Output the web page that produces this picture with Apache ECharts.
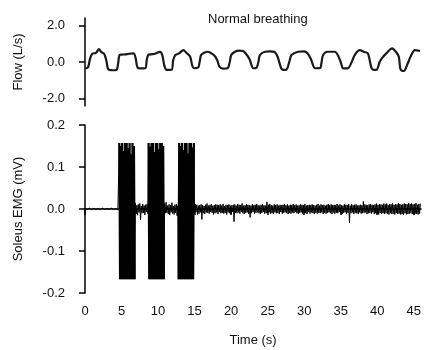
<!DOCTYPE html>
<html>
<head>
<meta charset="utf-8">
<script src="https://cdn.jsdelivr.net/npm/echarts@6/dist/echarts.min.js"></script>
<style>
html,body{margin:0;padding:0;background:#fff;}
#chart{width:424px;height:350px;}
</style>
</head>
<body>
<div id="chart"></div>
<script>
// ---- Data ----
var chartTitle = 'Normal breathing';
var flowAxisName = 'Flow (L/s)';
var emgAxisName = 'Soleus EMG (mV)';
var timeAxisName = 'Time (s)';

var timeTicks = [0, 5, 10, 15, 20, 25, 30, 35, 40, 45];
var flowTicks = [-2.0, 0.0, 2.0];
var emgTicks = [-0.2, -0.1, 0.0, 0.1, 0.2];

// Airflow trace (time in s, flow in L/s)
var flowTime = [0, 0.4, 0.7, 1.0, 1.5, 1.9, 2.2, 2.6, 2.9, 3.1, 3.3, 3.8, 4.3, 4.5, 4.7, 5.0, 5.5, 6.0, 6.6, 6.9,
  7.1, 7.4, 8.2, 8.4, 8.6, 9.0, 9.5, 10.2, 10.5, 10.8, 11.1, 11.8, 12.0, 12.3, 12.8, 13.4, 13.8, 14.3, 14.6, 14.8,
  15.4, 15.6, 15.8, 16.2, 16.7, 17.2, 17.6, 18.0, 18.3, 18.8, 19.4, 19.7, 19.9, 20.4, 21.0, 21.5, 21.9, 22.4, 22.9, 23.3,
  23.6, 23.8, 24.5, 25.2, 25.8, 26.2, 26.7, 27.0, 27.4, 27.8, 28.1, 29.0, 29.8, 30.3, 30.7, 31.3, 31.5, 32.0, 32.2, 32.4,
  33.0, 34.0, 34.4, 34.8, 35.1, 35.4, 35.8, 36.3, 36.7, 37.4, 38.0, 38.5, 39.0, 39.3, 39.7, 40.1, 40.4, 41.0, 41.8, 42.3,
  42.7, 42.9, 43.1, 43.4, 43.9, 44.3, 44.9, 45.6];
var flowValue = [-0.34, -0.30, 0.20, 0.45, 0.50, 0.70, 0.55, 0.45, 0.10, -0.35, -0.43, -0.45, -0.43, -0.10, 0.38, 0.40, 0.42, 0.45, 0.47, 0.20,
  -0.25, -0.35, -0.34, 0.10, 0.38, 0.42, 0.45, 0.55, 0.40, -0.20, -0.43, -0.42, 0.10, 0.38, 0.47, 0.65, 0.50, 0.30, -0.20, -0.34,
  -0.30, 0.00, 0.38, 0.50, 0.56, 0.47, 0.35, 0.10, -0.25, -0.36, -0.34, 0.00, 0.38, 0.56, 0.62, 0.60, 0.45, 0.15, -0.34, -0.33,
  0.00, 0.38, 0.56, 0.58, 0.55, 0.30, -0.34, -0.43, -0.42, 0.00, 0.38, 0.56, 0.58, 0.47, 0.20, -0.34, -0.34, -0.33, 0.00, 0.38,
  0.56, 0.56, 0.38, 0.00, -0.34, -0.35, -0.34, 0.00, 0.38, 0.65, 0.55, 0.47, -0.34, -0.43, -0.42, 0.00, 0.20, 0.47, 0.74, 0.56,
  0.30, -0.34, -0.47, -0.49, -0.10, 0.29, 0.65, 0.60];

// Soleus EMG, one sample every 0.1 s, values in microvolts
var emgSampleStep = 0.1;
var emgMicroVolts = [
  1,-1,2,-1,1,-2,2,-1,1,-1, 2,-2,1,-1,2,-1,1,-2,1,-1, 2,-1,1,-2,2,-1,1,-1,2,-2, 1,-1,2,-1,1,-2,2,-1,1,-1, 2,-2,1,-1,3,-2,2,
  157,-167,150,-167,157,-167,138,-167,157,-167,157,-167,145,-167,157,-167,130,-167,157,-167,150,-167,
  14,-12,9,-15,11,-8,13,-26,7,-10,12,-9,8,-14,10,-7,12,-11,
  157,-167,148,-167,157,-167,157,-167,135,-167,157,-167,157,-167,142,-167,157,-167,157,-167,150,-167,
  13,-10,16,-9,8,-12,11,-14,9,-8,15,-11,7,-13,10,-9,12,-16,8,
  -167,157,-167,150,-167,157,-167,140,-167,157,-167,157,-167,132,-167,157,-167,157,-167,146,-167,157,
  -9,12,-7,10,-13,8,-11,9,-8,11,
  -25,9,-10,7,-12,10,-8,13,-9,8,
  -11,10,-7,12,-9,8,-13,9,-10,11,
  -8,10,-12,9,-7,11,-10,8,-9,12,
  -11,7,-9,10,-13,9,-8,11,-10,8,
  -12,9,-7,10,-30,11,-9,8,-10,12,
  -8,10,-11,9,-7,13,-10,8,-12,9,
  -9,11,-8,10,-12,9,-20,8,-10,11,
  -7,9,-11,10,-9,12,-8,9,-10,8,
  -12,10,-9,11,-7,9,-11,8,-10,17,
  -9,10,-8,12,-11,9,-10,8,-12,11,
  -8,9,-10,11,-9,8,-12,10,-7,9,
  -11,10,-9,12,-8,9,-10,11,-12,8,
  -9,10,-11,9,-8,12,-10,9,-7,11,
  -10,8,-12,9,-9,11,-8,10,-11,9,
  -9,12,-10,8,-12,9,-7,10,-11,9,
  -8,11,-10,9,-12,8,-9,10,-11,12,
  -9,8,-10,11,-8,9,-12,10,-9,8,
  -11,10,-9,12,-8,9,-10,11,-12,9,
  -8,10,-11,9,-9,12,-10,8,-7,11,
  -10,9,-12,8,-9,11,-8,10,-11,9,
  -9,12,-33,8,-10,11,-8,9,-12,10,
  -9,11,-10,8,-12,9,-8,10,-11,9,
  -10,18,-9,11,-8,10,-12,9,-10,11,
  -9,12,-11,10,-8,9,-12,11,-10,13,
  -11,10,-13,12,-9,11,-12,10,-10,13,
  -12,11,-10,13,-11,9,-13,12,-10,11,
  -12,13,-11,10,-13,12,-10,11,-12,14,
  -11,12,-13,10,-12,11,-14,13,-10,12,
  -13,11,-12,14,-11,12,-10,13,-12,11,
  -13,12,-11,14,-12,10,-13,12,-11,13
];
// amplitude above which a sample belongs to a saturated burst (µV)
var burstThreshold = 100;

// ---- Build series data ----
var flowData = flowTime.map(function (t, i) { return [t, flowValue[i]]; });
var emgData = emgMicroVolts.map(function (v, i) {
  return [+(i * emgSampleStep).toFixed(2), v / 1000];
});
// burst-only copy (drawn heavier so the saturated bursts read as solid blocks)
var emgBurstData = emgMicroVolts.map(function (v, i) {
  var t = +(i * emgSampleStep).toFixed(2);
  return Math.abs(v) > burstThreshold ? [t, v / 1000] : [t, null];
});

var FONT = '"Liberation Sans", Arial, sans-serif';
var TXT = '#111';
var axisLine = { show: true, lineStyle: { color: '#000', width: 1.5 } };
var axisTick = { show: true, inside: false, length: 6, lineStyle: { color: '#000', width: 1.5 } };

var chart = echarts.init(document.getElementById('chart'), null, { renderer: 'canvas' });
chart.setOption({
  animation: false,
  backgroundColor: '#fff',
  textStyle: { fontFamily: FONT },
  title: {
    text: chartTitle,
    left: 203, top: 8,
    textStyle: { fontSize: 13, fontWeight: 'normal', color: TXT, fontFamily: FONT }
  },
  grid: [
    { left: 85, top: 18, width: 338, height: 88 },
    { left: 85, top: 125, width: 338, height: 168 }
  ],
  xAxis: [
    { gridIndex: 0, type: 'value', min: 0, max: 46, show: false },
    {
      gridIndex: 1, type: 'value', min: 0, max: 46,
      axisLine: axisLine,
      axisTick: Object.assign({}, axisTick, { customValues: timeTicks }),
      axisLabel: { customValues: timeTicks, fontSize: 13, color: TXT, margin: 12, fontFamily: FONT },
      splitLine: { show: false },
      name: timeAxisName, nameLocation: 'middle', nameGap: 41,
      nameTextStyle: { fontSize: 13, color: TXT, fontFamily: FONT }
    }
  ],
  yAxis: [
    {
      gridIndex: 0, type: 'value', min: -2.4, max: 2.4,
      axisLine: axisLine,
      axisTick: Object.assign({}, axisTick, { customValues: flowTicks }),
      axisLabel: {
        customValues: flowTicks, fontSize: 13, color: TXT, margin: 20, fontFamily: FONT,
        formatter: function (v) { return v.toFixed(1); }
      },
      splitLine: { show: false },
      name: flowAxisName, nameLocation: 'middle', nameGap: 60, nameRotate: 90,
      nameTextStyle: { fontSize: 13, color: TXT, fontFamily: FONT }
    },
    {
      gridIndex: 1, type: 'value', min: -0.2, max: 0.2,
      axisLine: axisLine,
      axisTick: Object.assign({}, axisTick, { customValues: emgTicks }),
      axisLabel: {
        customValues: emgTicks, fontSize: 13, color: TXT, margin: 20, fontFamily: FONT,
        formatter: function (v) { return v.toFixed(1); }
      },
      splitLine: { show: false },
      name: emgAxisName, nameLocation: 'middle', nameGap: 60, nameRotate: 90,
      nameTextStyle: { fontSize: 13, color: TXT, fontFamily: FONT }
    }
  ],
  series: [
    {
      type: 'line', xAxisIndex: 0, yAxisIndex: 0, data: flowData,
      showSymbol: false, smooth: 0.3,
      lineStyle: { color: '#1a1a1a', width: 2.2 }
    },
    {
      type: 'line', xAxisIndex: 1, yAxisIndex: 1, data: emgData,
      showSymbol: false, sampling: 'none',
      lineStyle: { color: '#000', width: 1.0 }
    },
    {
      type: 'line', xAxisIndex: 1, yAxisIndex: 1, data: emgBurstData,
      showSymbol: false, sampling: 'none', connectNulls: false,
      lineStyle: { color: '#000', width: 2.2 }
    }
  ]
});
</script>
</body>
</html>
